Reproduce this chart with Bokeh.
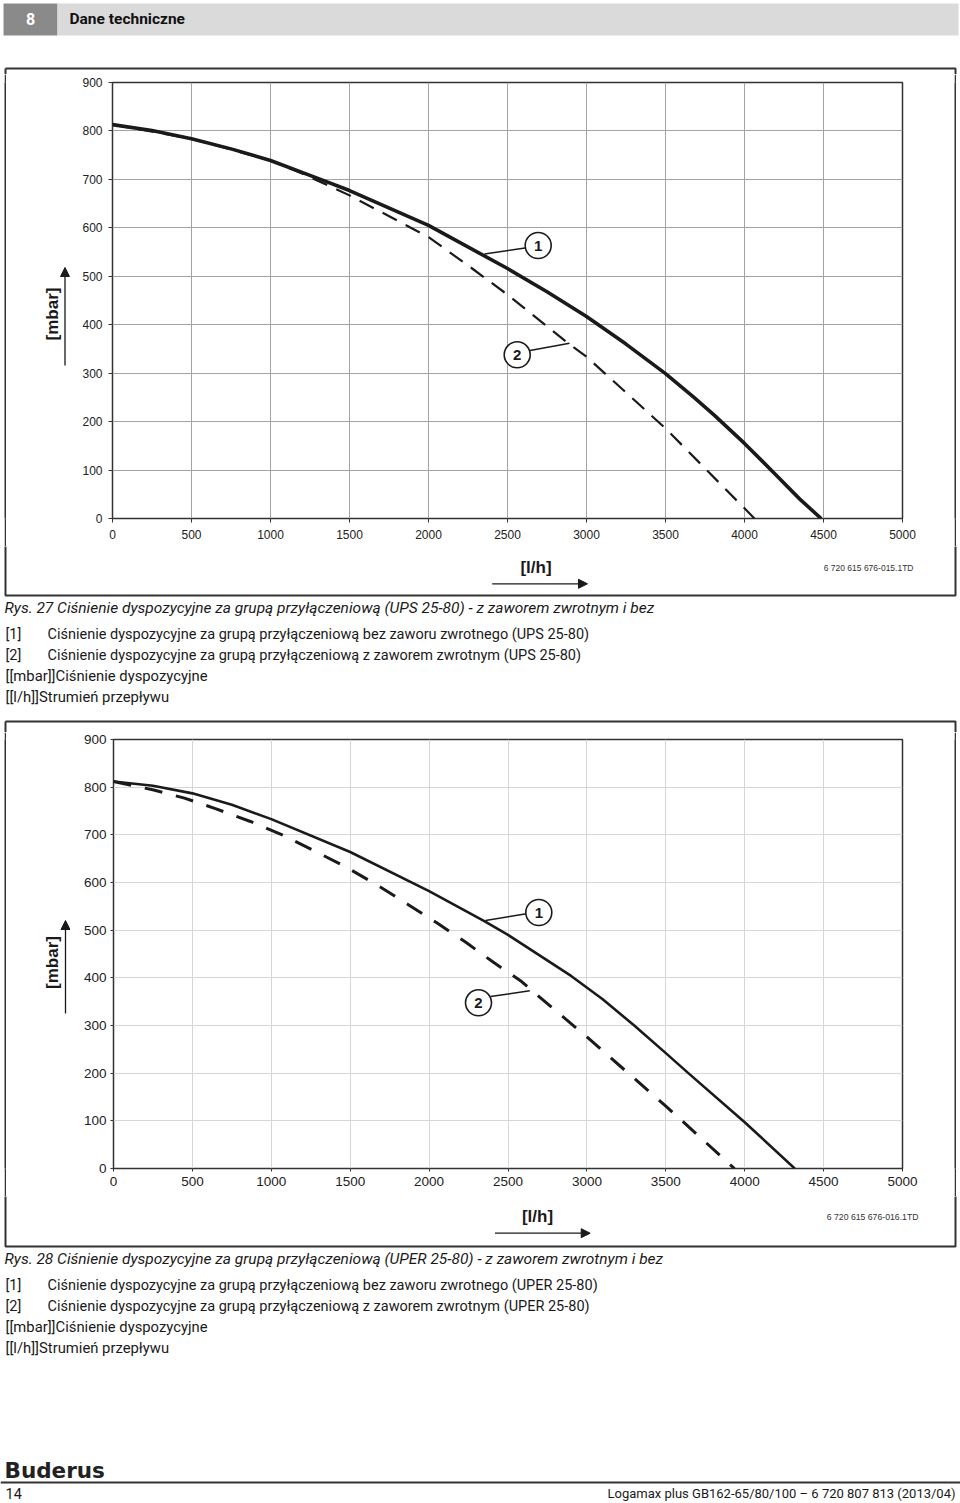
import numpy as np
from bokeh.plotting import figure
from bokeh.models import Arrow, NormalHead, FixedTicker, Range1d, Spacer
from bokeh.layouts import column, row
from bokeh.embed import file_html
from bokeh.resources import INLINE
from bokeh.core.properties import value

# ---------------- data ----------------
flow_ticks = [0, 500, 1000, 1500, 2000, 2500, 3000, 3500, 4000, 4500, 5000]
pressure_ticks = [0, 100, 200, 300, 400, 500, 600, 700, 800, 900]

# Rys. 27  UPS 25-80
ups_no_valve_flow = [0, 250, 500, 750, 1000, 1300, 1500, 2000, 2500, 2750, 3000, 3250, 3500, 3680, 3810, 4000, 4190, 4350, 4485]
ups_no_valve_mbar = [813, 801, 784, 763, 739, 702, 677, 605, 516, 468, 417, 360, 299, 250, 213, 155, 93, 40, 0]
ups_valve_flow = [0, 500, 1000, 1200, 1500, 2000, 2285, 2500, 2886, 3000, 3500, 4000, 4063]
ups_valve_mbar = [813, 784, 739, 712, 667, 581, 514, 462, 361, 334, 186, 21, 0]

# Rys. 28  UPER 25-80
uper_no_valve_flow = [0, 250, 500, 750, 1000, 1500, 2000, 2350, 2500, 2900, 3100, 3300, 3500, 3650, 4000, 4317]
uper_no_valve_mbar = [812, 803, 787, 763, 733, 664, 582, 519, 490, 404, 355, 300, 242, 198, 97, 0]
uper_valve_flow = [0, 255, 450, 646, 868, 1069, 1262, 1459, 1664, 1871, 2051, 2235, 2410, 2579, 2727, 3000, 3500, 3935]
uper_valve_mbar = [812, 794, 777, 755, 728, 700, 668, 635, 596, 553, 515, 474, 432, 394, 352, 276, 131, 0]

caption_27 = "Rys. 27 Ciśnienie dyspozycyjne za grupą przyłączeniową (UPS 25-80) - z zaworem zwrotnym i bez"
items_27 = [("[1]", "Ciśnienie dyspozycyjne za grupą przyłączeniową bez zaworu zwrotnego (UPS 25-80)"),
            ("[2]", "Ciśnienie dyspozycyjne za grupą przyłączeniową z zaworem zwrotnym (UPS 25-80)")]
caption_28 = "Rys. 28 Ciśnienie dyspozycyjne za grupą przyłączeniową (UPER 25-80) - z zaworem zwrotnym i bez"
items_28 = [("[1]", "Ciśnienie dyspozycyjne za grupą przyłączeniową bez zaworu zwrotnego (UPER 25-80)"),
            ("[2]", "Ciśnienie dyspozycyjne za grupą przyłączeniową z zaworem zwrotnym (UPER 25-80)")]
legend_units = ["[[mbar]]Ciśnienie dyspozycyjne", "[[l/h]]Strumień przepływu"]

# ---------------- styling ----------------
SANS = "Liberation Sans"
COND = "Roboto"
INK = "#1a1a1a"
FRAME = "#333333"
LEFT, RIGHT = 0, 960           # page edges (page coordinates = reference pixels)
BOX_L, BOX_R = 5, 955          # outer box vertical lines (centres)
SPLIT = 70                     # start of the chart figure
RSPLIT = 945                   # end of the chart figure


def panel(x0, x1, y0, y1, border_top=0, border_bottom=0):
    """A figure whose frame spans its width, in page pixel coordinates (y down)."""
    p = figure(width=int(x1 - x0), height=int(y1 - y0),
               x_range=Range1d(x0, x1), y_range=Range1d(y1 - border_bottom, y0 + border_top),
               x_axis_type=None, y_axis_type=None, min_border=0,
               min_border_top=border_top, min_border_bottom=border_bottom,
               output_backend="svg", toolbar_location=None, tools="")
    p.outline_line_color = None
    p.background_fill_color = "white"
    p.border_fill_color = "white"
    return p


def vline_fig(height):
    p = figure(width=2, height=height, x_axis_type=None, y_axis_type=None, min_border=0,
               output_backend="svg", toolbar_location=None, tools="")
    p.outline_line_color = None
    p.background_fill_color = FRAME
    p.border_fill_color = FRAME
    return p


def ptext(p, x, y, s, size, font=SANS, style="normal", align="left", color=INK, angle=0.0):
    p.text(x=[x], y=[y], text=[s], text_font=value(font), text_font_size=value(f"{size}px"),
           text_font_style=style, text_align=align, text_baseline="middle",
           text_color=color, angle=angle)


def parrow(p, x0, y0, x1, y1):
    p.add_layout(Arrow(end=NormalHead(size=9, fill_color=INK, line_color=INK, line_width=1),
                       x_start=x0, y_start=y0, x_end=x1, y_end=y1,
                       line_color=INK, line_width=1.3))


def pbox(p, t, b):
    p.line(x=[BOX_L, BOX_R, BOX_R, BOX_L, BOX_L], y=[t, t, b, b, t], line_color=FRAME, line_width=2)


def chart(x0, x1, y0, y1, fl, fr, ft, fb, tick_size, grid_color, tick_out, std_x, std_y):
    p = figure(width=x1 - x0, height=y1 - y0,
               x_range=Range1d(0, 5000), y_range=Range1d(0, 900),
               min_border_left=fl - x0, min_border_right=x1 - fr,
               min_border_top=ft - y0, min_border_bottom=y1 - fb,
               output_backend="svg", toolbar_location=None, tools="")
    p.background_fill_color = "white"
    p.border_fill_color = "white"
    p.outline_line_color = FRAME
    p.outline_line_width = 1.5
    for ax, ticks, std in ((p.xaxis, flow_ticks, std_x), (p.yaxis, pressure_ticks, std_y)):
        ax.ticker = FixedTicker(ticks=ticks)
        ax.major_label_overrides = {t: str(t) for t in ticks}
        ax.axis_line_color = None
        ax.major_tick_in = 0
        ax.major_tick_out = tick_out
        ax.major_tick_line_color = FRAME
        ax.minor_tick_line_color = None
        ax.major_label_text_font = SANS
        ax.major_label_text_font_size = tick_size
        ax.major_label_text_color = "#222222"
        ax.major_label_standoff = std
    p.xgrid.ticker = FixedTicker(ticks=flow_ticks)
    p.ygrid.ticker = FixedTicker(ticks=pressure_ticks)
    p.xgrid.grid_line_color = grid_color
    p.ygrid.grid_line_color = grid_color

    def X(px):
        return (px - fl) * 5000.0 / (fr - fl)

    def Y(py):
        return (fb - py) * 900.0 / (fb - ft)

    return p, X, Y


def callout(p, X, Y, cx, cy, lx0, ly0, lx1, ly1, s):
    p.segment(x0=[X(lx0)], y0=[Y(ly0)], x1=[X(lx1)], y1=[Y(ly1)], line_color=INK, line_width=1.5)
    p.scatter(x=[X(cx)], y=[Y(cy)], size=26, marker="circle", fill_color="white",
              line_color=INK, line_width=1.6)
    p.text(x=[X(cx)], y=[Y(cy + 0.5)], text=[s], text_font=value(SANS), text_font_size=value("15px"),
           text_font_style="bold", text_align="center", text_baseline="middle", text_color=INK)


def captions(p, y0, caption, items):
    ptext(p, 4, y0, caption, 15.5, font=COND, style="italic")
    ys = [y0 + 27, y0 + 48, y0 + 68.5, y0 + 89]
    for (num, s), yy in zip(items, ys[:2]):
        ptext(p, 5, yy, num, 14.5, font=COND)
        ptext(p, 47, yy, s, 14.5, font=COND)
    for s, yy in zip(legend_units, ys[2:]):
        ptext(p, 5, yy, s, 14.8, font=COND)


def chart_row(left_strip, chart_fig, height):
    # [gap][box line][left strip][chart][gap][box line][gap]
    return row(Spacer(width=BOX_L - 1, height=height), vline_fig(height), left_strip, chart_fig,
               Spacer(width=(BOX_R - 1) - RSPLIT, height=height), vline_fig(height),
               Spacer(width=RIGHT - (BOX_R + 1), height=height), spacing=0)


# ================= header =================
header = panel(LEFT, RIGHT, 0, 64)
header.quad(left=[3], right=[57], top=[3], bottom=[35], fill_color="#8a8a8a", line_color=None)
header.quad(left=[57], right=[958], top=[3], bottom=[35], fill_color="#dadada", line_color=None)
ptext(header, 30, 18.5, "8", 16, font=COND, style="bold", align="center", color="white")
ptext(header, 69, 18.5, "Dane techniczne", 15.5, font=COND, style="bold", color="#111111")

# ================= Rys. 27 =================
top1 = panel(LEFT, RIGHT, 64, 74)
pbox(top1, 66, 595)

c1, X1, Y1 = chart(SPLIT, RSPLIT, 74, 546, 112, 902, 82, 518, "12px", "#a3a3a3", 4, 7, 6)
c1.line(ups_valve_flow, ups_valve_mbar, line_color=INK, line_width=2.2, line_dash="16 10")
c1.line(ups_no_valve_flow, ups_no_valve_mbar, line_color=INK, line_width=3.6, line_join="round")
callout(c1, X1, Y1, 537.7, 245, 524.5, 247.5, 484, 253.5, "1")
callout(c1, X1, Y1, 516.7, 354.3, 529.5, 350, 569, 342.7, "2")

left1 = panel(BOX_L + 1, SPLIT, 74, 546, border_top=8, border_bottom=28)
ptext(left1, 51.5, 313.5, "[mbar]", 17, style="bold", align="center", angle=np.pi / 2)
parrow(left1, 64.5, 365, 64.5, 267)

bottom1 = panel(LEFT, RIGHT, 546, 600)
pbox(bottom1, 66, 595)
ptext(bottom1, 535.5, 567, "[l/h]", 17, style="bold", align="center")
parrow(bottom1, 491.7, 583.3, 587, 583.3)
ptext(bottom1, 913, 567, "6 720 615 676-015.1TD", 8.5, align="right", color=FRAME)

cap1 = panel(LEFT, RIGHT, 600, 716)
captions(cap1, 607, caption_27, items_27)

# ================= Rys. 28 =================
top2 = panel(LEFT, RIGHT, 716, 732)
pbox(top2, 721, 1246)

c2, X2, Y2 = chart(SPLIT, RSPLIT, 732, 1196, 113, 902, 739, 1168, "13.5px", "#d6d6d6", 3, 5, 4)
c2.line(uper_valve_flow, uper_valve_mbar, line_color=INK, line_width=3.0, line_dash="18 14")
c2.line(uper_no_valve_flow, uper_no_valve_mbar, line_color=INK, line_width=2.6, line_join="round")
callout(c2, X2, Y2, 538.3, 912, 526, 913.3, 485, 920, "1")
callout(c2, X2, Y2, 478, 1002.3, 490, 996, 529.3, 990.3, "2")

left2 = panel(BOX_L + 1, SPLIT, 732, 1196, border_top=7, border_bottom=28)
ptext(left2, 51.5, 962, "[mbar]", 17, style="bold", align="center", angle=np.pi / 2)
parrow(left2, 65, 1013, 65, 920)

bottom2 = panel(LEFT, RIGHT, 1196, 1250)
pbox(bottom2, 721, 1246)
ptext(bottom2, 537, 1216, "[l/h]", 17, style="bold", align="center")
parrow(bottom2, 494.5, 1232.7, 589.7, 1232.7)
ptext(bottom2, 918, 1216, "6 720 615 676-016.1TD", 8.7, align="right", color=FRAME)

cap2 = panel(LEFT, RIGHT, 1250, 1502)
captions(cap2, 1258, caption_28, items_28)
# footer
ptext(cap2, 4, 1470, "Buderus", 21.5, font="DejaVu Sans", style="bold", color="#222222")
cap2.quad(left=[0], right=[960], top=[1481], bottom=[1483], fill_color=FRAME, line_color=None)
ptext(cap2, 5, 1492.5, "14", 14.5, font=COND)
ptext(cap2, 955, 1492.5, "Logamax plus GB162-65/80/100 – 6 720 807 813 (2013/04)", 13, font=COND, align="right")

layout = column(
    header, top1,
    chart_row(left1, c1, 472),
    bottom1, cap1, top2,
    chart_row(left2, c2, 464),
    bottom2, cap2,
    spacing=0,
)
open("out.html", "w").write(file_html(layout, INLINE))
